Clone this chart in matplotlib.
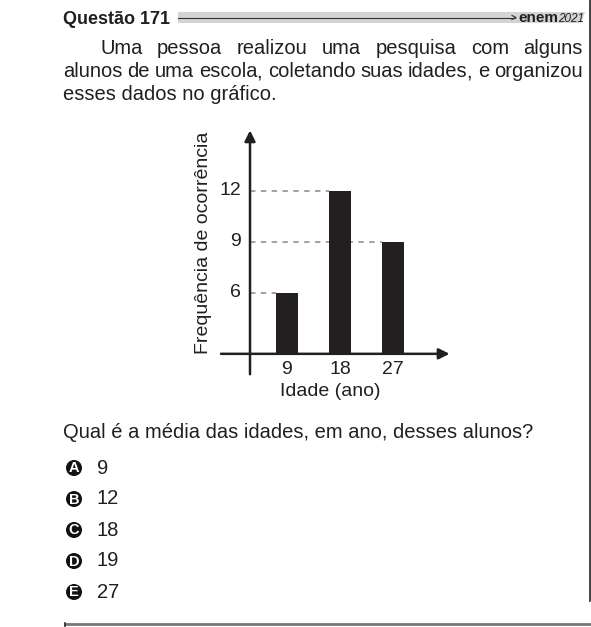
import matplotlib
matplotlib.use("Agg")
import matplotlib.pyplot as plt
import matplotlib.patches as mpatches
import numpy as np

plt.rcParams['font.family'] = ['Liberation Sans', 'DejaVu Sans']

# dados do gráfico
idades = [9, 18, 27]
frequencias = [6, 12, 9]
ticks_y = [6, 9, 12]
titulo = "Questão 171"
paragrafo = ["Uma pessoa realizou uma pesquisa com alguns",
             "alunos de uma escola, coletando suas idades, e organizou",
             "esses dados no gráfico."]
pergunta = "Qual é a média das idades, em ano, desses alunos?"
letras = ["A", "B", "C", "D", "E"]
alternativas = ["9", "12", "18", "19", "27"]

W, H = 591, 627
fig = plt.figure(figsize=(W / 100, H / 100), dpi=100)
fig.patch.set_facecolor("white")

# eixo "pagina" em pixels
page = fig.add_axes([0, 0, 1, 1])
page.set_xlim(0, W)
page.set_ylim(H, 0)
page.axis("off")

TXT = "#231f20"

fig.canvas.draw()
renderer = fig.canvas.get_renderer()


def largura_txt(t):
    return t.get_window_extent(renderer).width


# cabecalho
page.text(63, 20, titulo, fontsize=13, fontweight="bold", color=TXT, va="center", ha="left")
band = mpatches.Polygon([(178, 12), (585, 12), (581, 23), (178, 23)], closed=True,
                        fc="#d4d4d4", ec="none")
page.add_patch(band)
page.plot([178, 515], [17.5, 17.5], color="#333333", lw=0.8)
page.plot([512, 516, 512], [15.5, 17.5, 19.5], color="#333333", lw=0.8)
t_enem = page.text(518, 18, "enem", fontsize=11, fontweight="bold", color=TXT,
                   va="center", ha="left")
page.text(518 + largura_txt(t_enem) + 0.5, 18.5, "2021", fontsize=8.5, fontstyle="italic",
          color=TXT, va="center", ha="left")
page.plot([589.5, 589.5], [0, 601], color="#222222", lw=1.2)


def justificar(linha, x0, x1, y, size):
    palavras = linha.split()
    pecas = []
    for p in palavras:
        corpo = p.rstrip(",.")
        pont = p[len(corpo):]
        t1 = page.text(0, y, corpo, fontsize=size, color=TXT, va="baseline", ha="left")
        t2 = page.text(0, y, pont, fontsize=size, color=TXT, va="baseline", ha="left") if pont else None
        w1 = largura_txt(t1)
        w2 = largura_txt(t2) if t2 else 0
        pecas.append((t1, t2, w1, w2))
    total = sum(w1 + w2 for _, _, w1, w2 in pecas)
    gap = (x1 - x0 - total) / (len(palavras) - 1)
    x = x0
    for t1, t2, w1, w2 in pecas:
        t1.set_x(x)
        if t2:
            t2.set_x(x + w1 - 1.5)
        x += w1 + w2 + gap


FS = 14.5
justificar(paragrafo[0], 100, 583, 54, FS)
justificar(paragrafo[1], 63, 583, 77, FS)
page.text(63, 100, paragrafo[2], fontsize=FS, color=TXT, va="baseline", ha="left")

# grafico
ax = fig.add_axes([200 / W, 1 - 380 / H, 270 / W, 260 / H])
ax.set_xlim(-5.77, 40.07)
ax.set_ylim(0.86, 16.16)
ax.axis("off")
ax.patch.set_alpha(0)

base = 2.4
x_eixo = 2.72
largura = 3.6
ax.bar(idades, np.array(frequencias) - base, bottom=base, width=largura,
       color="#231f20", zorder=3)
ax.hlines(frequencias, x_eixo, np.array(idades) - largura / 2, colors="#9a9a9a",
          linestyles=(0, (3, 3)), lw=1.3, zorder=1)
ax.annotate("", xy=(36.6, base), xytext=(-2.2, base),
            arrowprops=dict(arrowstyle="-|>", color="#231f20", lw=1.8, mutation_scale=16,
                            shrinkA=0, shrinkB=0))
ax.annotate("", xy=(x_eixo, 15.55), xytext=(x_eixo, 1.2),
            arrowprops=dict(arrowstyle="-|>", color="#231f20", lw=1.8, mutation_scale=16,
                            shrinkA=0, shrinkB=0))
for v in ticks_y:
    ax.text(x_eixo - 1.5, v, str(v), fontsize=14, color=TXT, ha="right", va="center")
for v in idades:
    ax.text(v, 1.45, str(v), fontsize=14, color=TXT, ha="center", va="center")

page.text(330, 392, "Idade (ano)", fontsize=14, color=TXT, ha="center", va="center")
page.text(203, 243, "Frequência de ocorrência", fontsize=14, color=TXT, ha="center",
          va="center", rotation=90)

# pergunta e alternativas
page.text(63, 438, pergunta, fontsize=FS, color=TXT, va="baseline", ha="left")
ys = [468, 499, 530, 561, 592]
for y, l, a in zip(ys, letras, alternativas):
    page.add_patch(mpatches.Circle((74, y), 8, fc="#111111", ec="none"))
    page.text(74, y + 0.5, l, fontsize=10.5, fontweight="bold", color="white",
              ha="center", va="center")
    page.text(97, y, a, fontsize=FS, color=TXT, ha="left", va="center")

page.plot([65, 591], [623.5, 623.5], color="#777777", lw=2)
page.plot([65, 65], [623, 627], color="#333333", lw=1.2)

fig.savefig("out.png", dpi=100)
